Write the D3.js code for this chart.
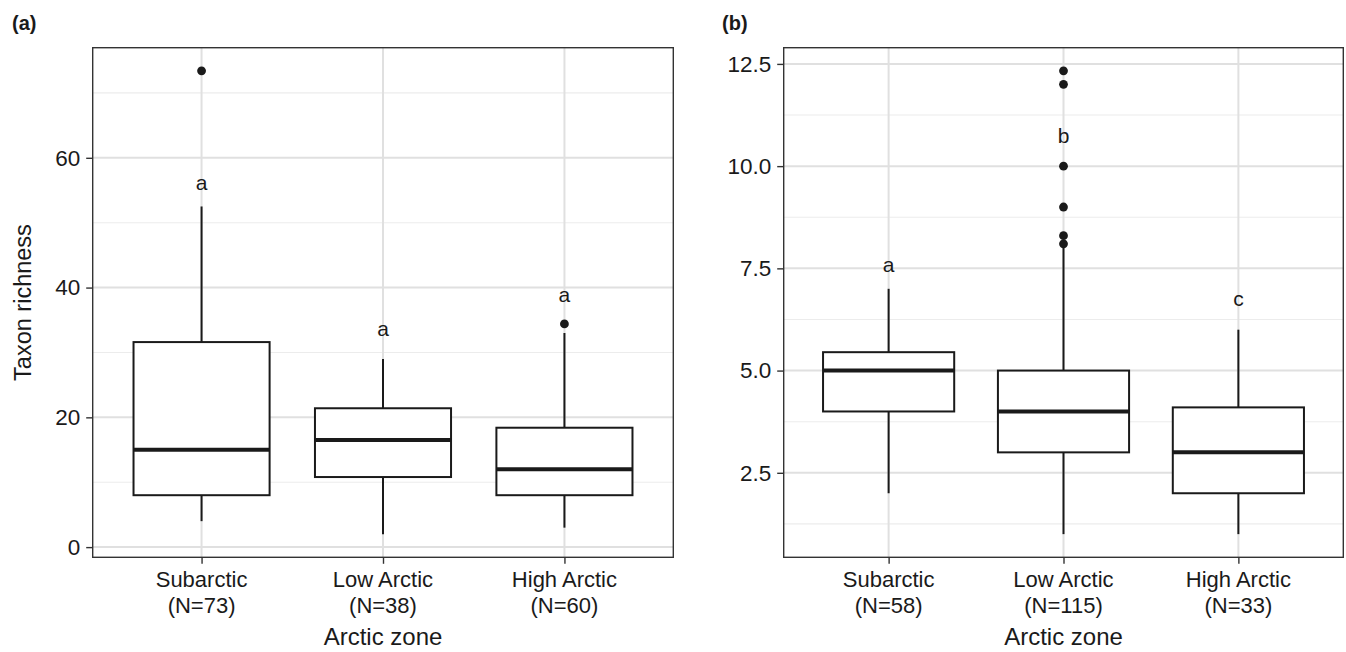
<!DOCTYPE html>
<html>
<head>
<meta charset="utf-8">
<script src="https://cdn.jsdelivr.net/npm/d3@7"></script>
<style>
  body { margin: 0; background: #fff; }
  svg { display: block; font-family: 'Liberation Sans', Arial, sans-serif; }
</style>
</head>
<body>
<div id="chart"></div>
<script>
const zones = ['Subarctic', 'Low Arctic', 'High Arctic'];

// (a) taxon richness: [lower whisker, Q1, median, Q3, upper whisker]
const countsA = [73, 38, 60];
const statsA = [
  [4, 8, 15, 31.6, 52.5],
  [2, 10.8, 16.5, 21.4, 29],
  [3, 8, 12, 18.4, 33]
];
const outliersA = [[73.4], [], [34.4]];
const lettersA = ['a', 'a', 'a'];
const letterValA = [56.2, 33.6, 38.9];
const ticksA = [0, 20, 40, 60];
const minorA = [10, 30, 50, 70];

// (b)
const countsB = [58, 115, 33];
const statsB = [
  [2, 4, 5, 5.45, 7],
  [1, 3, 4, 5, 8],
  [1, 2, 3, 4.1, 6]
];
const outliersB = [[], [8.1, 8.3, 9, 10, 12, 12.33], []];
const lettersB = ['a', 'b', 'c'];
const letterValB = [7.6, 10.74, 6.75];
const ticksB = [2.5, 5, 7.5, 10, 12.5];
const minorB = [1.25, 3.75, 6.25, 8.75, 11.25];

const WIDTH = 1346;
const HEIGHT = 652;

const svg = d3.select('#chart')
  .append('svg')
  .attr('width', WIDTH)
  .attr('height', HEIGHT);

function drawPanel(opt) {
  const { left, right, top, bottom } = opt;
  const g = svg.append('g');

  // ggplot style 5% expansion
  const all = opt.stats.flat().concat(opt.outliers.flat());
  const lo = d3.min(all);
  const hi = d3.max(all);
  const pad = (hi - lo) * 0.05;

  const y = d3.scaleLinear().domain([lo - pad, hi + pad]).range([bottom, top]);
  const x = d3.scalePoint().domain(zones).range([left, right]).padding(0.6);
  const boxW = x.step() * 0.75;

  // grid
  g.selectAll('.minor')
    .data(opt.minor)
    .enter()
    .append('line')
    .attr('x1', left).attr('x2', right)
    .attr('y1', (d) => y(d)).attr('y2', (d) => y(d))
    .attr('stroke', '#ececec')
    .attr('stroke-width', 1.1);

  g.selectAll('.major')
    .data(opt.ticks)
    .enter()
    .append('line')
    .attr('x1', left).attr('x2', right)
    .attr('y1', (d) => y(d)).attr('y2', (d) => y(d))
    .attr('stroke', '#e0e0e0')
    .attr('stroke-width', 2);

  g.selectAll('.vgrid')
    .data(zones)
    .enter()
    .append('line')
    .attr('x1', (d) => x(d)).attr('x2', (d) => x(d))
    .attr('y1', top).attr('y2', bottom)
    .attr('stroke', '#e0e0e0')
    .attr('stroke-width', 2);

  // boxes
  const box = g.selectAll('.box')
    .data(zones.map((z, i) => ({ zone: z, s: opt.stats[i], out: opt.outliers[i] })))
    .enter()
    .append('g');

  box.append('line')
    .attr('x1', (d) => x(d.zone)).attr('x2', (d) => x(d.zone))
    .attr('y1', (d) => y(d.s[3])).attr('y2', (d) => y(d.s[4]))
    .attr('stroke', '#1a1a1a').attr('stroke-width', 2);

  box.append('line')
    .attr('x1', (d) => x(d.zone)).attr('x2', (d) => x(d.zone))
    .attr('y1', (d) => y(d.s[1])).attr('y2', (d) => y(d.s[0]))
    .attr('stroke', '#1a1a1a').attr('stroke-width', 2);

  box.append('rect')
    .attr('x', (d) => x(d.zone) - boxW / 2)
    .attr('width', boxW)
    .attr('y', (d) => y(d.s[3]))
    .attr('height', (d) => y(d.s[1]) - y(d.s[3]))
    .attr('fill', '#fff')
    .attr('stroke', '#1a1a1a')
    .attr('stroke-width', 2);

  box.append('line')
    .attr('x1', (d) => x(d.zone) - boxW / 2).attr('x2', (d) => x(d.zone) + boxW / 2)
    .attr('y1', (d) => y(d.s[2])).attr('y2', (d) => y(d.s[2]))
    .attr('stroke', '#1a1a1a').attr('stroke-width', 4);

  box.selectAll('circle')
    .data((d) => d.out.map((v) => ({ zone: d.zone, v: v })))
    .enter()
    .append('circle')
    .attr('cx', (d) => x(d.zone))
    .attr('cy', (d) => y(d.v))
    .attr('r', 4.4)
    .attr('fill', '#1a1a1a');

  // significance letters
  g.selectAll('.letter')
    .data(zones)
    .enter()
    .append('text')
    .attr('x', (d) => x(d))
    .attr('y', (d, i) => y(opt.letterVal[i]))
    .attr('dy', '0.35em')
    .attr('text-anchor', 'middle')
    .attr('font-size', 21)
    .attr('fill', '#1a1a1a')
    .text((d, i) => opt.letters[i]);

  // panel border
  g.append('rect')
    .attr('x', left).attr('y', top)
    .attr('width', right - left).attr('height', bottom - top)
    .attr('fill', 'none')
    .attr('stroke', '#333')
    .attr('stroke-width', 1.4);

  // y axis
  const yAxis = g.append('g')
    .attr('transform', `translate(${left},0)`)
    .call(d3.axisLeft(y).tickValues(opt.ticks).tickSize(6.5).tickPadding(6)
      .tickFormat(opt.fmt));
  yAxis.select('.domain').remove();
  yAxis.selectAll('line').attr('stroke', '#333').attr('stroke-width', 1.4);
  yAxis.selectAll('text')
    .attr('font-size', 22.5)
    .attr('font-family', "'Liberation Sans', Arial, sans-serif")
    .attr('fill', '#1a1a1a');

  // x axis
  const xAxis = g.append('g')
    .attr('transform', `translate(0,${bottom})`)
    .call(d3.axisBottom(x).tickSize(6.5).tickFormat(''));
  xAxis.select('.domain').remove();
  xAxis.selectAll('line').attr('stroke', '#333').attr('stroke-width', 1.4);

  const xl = g.selectAll('.xlab')
    .data(zones)
    .enter()
    .append('text')
    .attr('text-anchor', 'middle')
    .attr('font-size', 22)
    .attr('fill', '#1a1a1a');
  xl.append('tspan')
    .attr('x', (d) => x(d))
    .attr('y', bottom + 30)
    .text((d) => d);
  xl.append('tspan')
    .attr('x', (d) => x(d))
    .attr('y', bottom + 56)
    .text((d, i) => `(N=${opt.counts[i]})`);

  g.append('text')
    .attr('x', (left + right) / 2)
    .attr('y', 645)
    .attr('text-anchor', 'middle')
    .attr('font-size', 24)
    .attr('fill', '#1a1a1a')
    .text('Arctic zone');

  g.append('text')
    .attr('x', opt.tagX)
    .attr('y', 30)
    .attr('font-size', 20)
    .attr('font-weight', 'bold')
    .attr('fill', '#1a1a1a')
    .text(opt.tag);

  if (opt.yTitle) {
    g.append('text')
      .attr('transform', `translate(31,${(top + bottom) / 2}) rotate(-90)`)
      .attr('text-anchor', 'middle')
      .attr('font-size', 23.5)
      .attr('fill', '#1a1a1a')
      .text(opt.yTitle);
  }
}

drawPanel({
  left: 92.7, right: 673.3, top: 47.7, bottom: 557.3,
  stats: statsA, outliers: outliersA, counts: countsA,
  letters: lettersA, letterVal: letterValA,
  ticks: ticksA, minor: minorA, fmt: d3.format('d'),
  tag: '(a)', tagX: 12, yTitle: 'Taxon richness'
});

drawPanel({
  left: 783.7, right: 1343.3, top: 47.7, bottom: 557.3,
  stats: statsB, outliers: outliersB, counts: countsB,
  letters: lettersB, letterVal: letterValB,
  ticks: ticksB, minor: minorB, fmt: d3.format('.1f'),
  tag: '(b)', tagX: 722
});
</script>
</body>
</html>
